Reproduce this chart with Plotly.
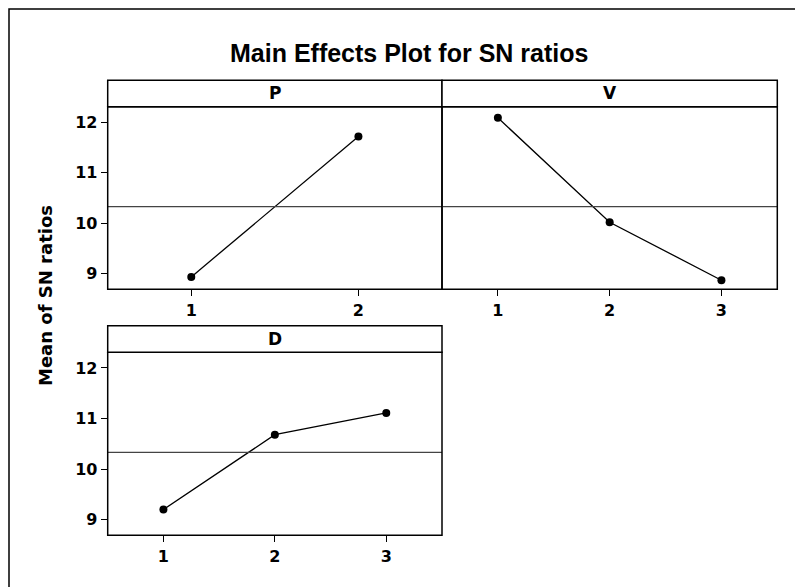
import plotly.graph_objects as go

# ---- data ----
p_levels = [1, 2]
p_means = [8.935, 11.72]
v_levels = [1, 2, 3]
v_means = [12.09, 10.02, 8.87]
d_levels = [1, 2, 3]
d_means = [9.20, 10.68, 11.11]
overall_mean = 10.33
factor_names = ["P", "V", "D"]
y_ticks = [9, 10, 11, 12]

W, H = 803, 587
OFF = 8  # page body margin offset
def px(x):
    return (x - OFF) / W
def py(y):
    return 1 - (y - OFF) / H

fig = go.Figure()
line_style = dict(color="black", width=1.3)
marker_style = dict(color="black", size=8, symbol="circle")

fig.add_trace(go.Scatter(x=p_levels, y=p_means, mode="lines+markers", line=line_style,
                         marker=marker_style, xaxis="x", yaxis="y", showlegend=False))
fig.add_trace(go.Scatter(x=v_levels, y=v_means, mode="lines+markers", line=line_style,
                         marker=marker_style, xaxis="x2", yaxis="y2", showlegend=False))
fig.add_trace(go.Scatter(x=d_levels, y=d_means, mode="lines+markers", line=line_style,
                         marker=marker_style, xaxis="x3", yaxis="y3", showlegend=False))

tick_font = dict(family="DejaVu Sans", size=16, color="black", weight="bold")
yr = [8.69, 12.31]

# panel geometry (pixels)
top_row = (106.7, 289.3)
bot_row = (352.3, 535.3)
col1 = (107.7, 442.0)
col2 = (442.0, 777.3)
strip_h = 26.5

def xax(domain, levels, anchor):
    return dict(domain=[px(domain[0]), px(domain[1])], range=[0.5, len(levels) + 0.5],
                tickvals=levels, ticktext=[str(v) for v in levels], ticks="outside",
                ticklen=6, tickwidth=1, tickcolor="black", showline=False,
                showgrid=False, zeroline=False,
                tickfont=tick_font, anchor=anchor, fixedrange=True)

def yax(domain, anchor, labels=True):
    d = dict(domain=[py(domain[1]), py(domain[0])], range=yr, showline=False,
             showgrid=False, zeroline=False, anchor=anchor, fixedrange=True)
    if labels:
        d.update(tickvals=y_ticks, ticks="outside", ticklen=6, tickwidth=1,
                 tickcolor="black", tickfont=tick_font)
    else:
        d.update(showticklabels=False, ticks="")
    return d

fig.update_layout(
    width=W, height=H, margin=dict(l=0, r=0, t=0, b=0),
    paper_bgcolor="white", plot_bgcolor="white",
    xaxis=xax(col1, p_levels, "y"),
    yaxis=yax(top_row, "x"),
    xaxis2=xax(col2, v_levels, "y2"),
    yaxis2=yax(top_row, "x2", labels=False),
    xaxis3=xax(col1, d_levels, "y3"),
    yaxis3=yax(bot_row, "x3"),
)

shapes = []
annotations = []
for xa, ya in [("x", "y"), ("x2", "y2"), ("x3", "y3")]:
    # overall mean reference line
    shapes.append(dict(type="line", xref=f"{xa} domain", yref=ya, x0=0, x1=1,
                       y0=overall_mean, y1=overall_mean,
                       line=dict(color="#444444", width=1.2)))
    # panel frame
    shapes.append(dict(type="rect", xref=f"{xa} domain", yref=f"{ya} domain",
                       x0=0, x1=1, y0=0, y1=1, line=dict(color="black", width=1.5)))

# strips
for name, col, row in [("P", col1, top_row), ("V", col2, top_row), ("D", col1, bot_row)]:
    shapes.append(dict(type="rect", xref="paper", yref="paper",
                       x0=px(col[0]), x1=px(col[1]), y0=py(row[0]), y1=py(row[0] - strip_h),
                       line=dict(color="black", width=1.5), fillcolor="white"))
    annotations.append(dict(text=f"<b>{name}</b>", xref="paper", yref="paper",
                            x=px((col[0] + col[1]) / 2), y=py(row[0] - strip_h / 2),
                            xanchor="center", yanchor="middle", showarrow=False,
                            font=dict(family="DejaVu Sans", size=17, color="black")))

# outer frame (only top/left visible in crop)
shapes.append(dict(type="rect", xref="paper", yref="paper", x0=px(9), x1=1.05,
                   y0=-0.05, y1=py(9), line=dict(color="black", width=1.5)))

annotations.append(dict(text="<b>Main Effects Plot for SN ratios</b>", xref="paper", yref="paper",
                        x=px(409), y=py(53), xanchor="center", yanchor="middle", showarrow=False,
                        font=dict(family="Liberation Sans Narrow, Liberation Sans", size=25, color="black")))
annotations.append(dict(text="<b>Mean of SN ratios</b>", xref="paper", yref="paper",
                        x=px(46), y=py(296), xanchor="center", yanchor="middle", showarrow=False,
                        textangle=-90,
                        font=dict(family="DejaVu Sans", size=18, color="black")))

fig.update_layout(shapes=shapes, annotations=annotations)
fig.write_html("out.html")
